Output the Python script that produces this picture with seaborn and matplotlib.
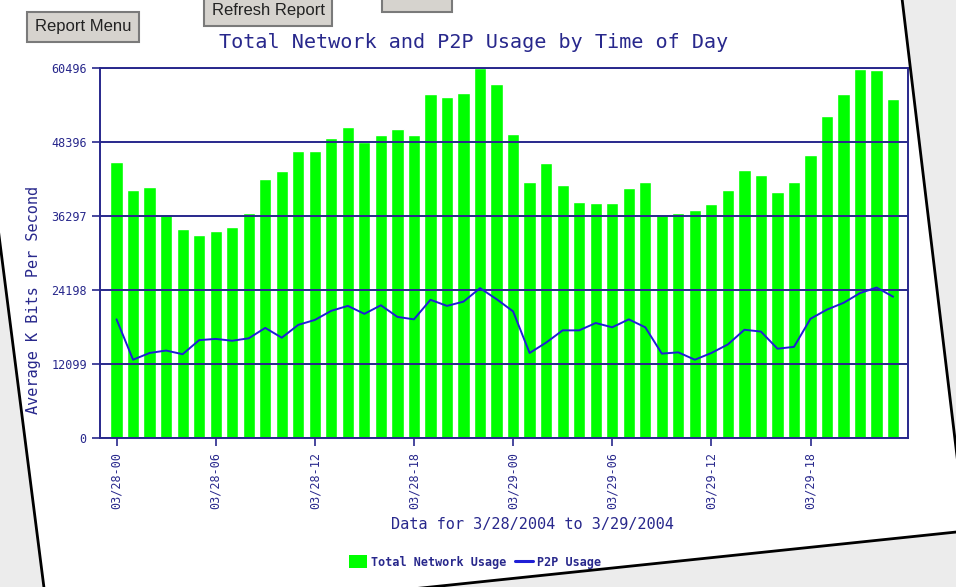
import numpy as np
import pandas as pd
import matplotlib
matplotlib.use("Agg")  # no display in the sandbox
import matplotlib.pyplot as plt
from matplotlib.patches import Polygon, Patch, Rectangle
from matplotlib.lines import Line2D
import seaborn as sns

# ── Data: hourly averages 03/28 00h → 03/29 23h, K bits per second ──────────
hours = [f"03/{d}-{h:02d}" for d in (28, 29) for h in range(24)]

total_usage = [
    45200, 40600, 41100, 36700, 34100, 33200, 33800, 34500, 36800, 42400,
    43600, 47000, 47000, 49000, 50800, 48400, 49500, 50600, 49600, 56300,
    55800, 56400, 60496, 57800, 49700, 41900, 45000, 41400, 38600, 38400,
    38500, 40800, 41800, 36500, 36800, 37300, 38300, 40500, 43800, 43000,
    40300, 41900, 46300, 52600, 56200, 60300, 60200, 55500,
]

p2p_usage = [
    19400, 12800, 13900, 14300, 13700, 16000, 16200, 15900, 16300, 18000,
    16400, 18500, 19300, 20800, 21600, 20300, 21700, 19800, 19400, 22600,
    21600, 22300, 24500, 22700, 20700, 13900, 15600, 17600, 17600, 18800,
    18100, 19400, 18100, 13800, 14000, 12800, 13900, 15300, 17700, 17400,
    14600, 14900, 19500, 21000, 22100, 23700, 24600, 23100,
]

y_ticks = [0, 12099, 24198, 36297, 48396, 60496]
x_tick_labels = ["03/28-00", "03/28-06", "03/28-12", "03/28-18",
                 "03/29-00", "03/29-06", "03/29-12", "03/29-18"]

df = pd.DataFrame({"hour": hours, "total": total_usage, "p2p": p2p_usage})

# ── Styling ──────────────────────────────────────────────────────────────────
NAVY = "#28288c"
GREEN = "#00ff00"
BLUE = "#1f1fd6"
W, H = 956, 587


def fx(px):
    return px / W


def fy(py):
    return 1 - py / H


sns.set_theme(style="white")
plt.rcParams["font.family"] = ["DejaVu Sans Mono", "DejaVu Sans"]

fig = plt.figure(figsize=(9.56, 5.87), dpi=100, facecolor="#ececec")

# page of the screenshot (slightly tilted sheet on a grey desk)
page = [(-10, -10), (901, -10), (966, 531), (49, 627), (-10, 165)]
fig.patches.append(Polygon([(fx(x), fy(y)) for x, y in page], closed=True,
                           transform=fig.transFigure, facecolor="white",
                           edgecolor="black", lw=2, zorder=-1))

# browser buttons
btn = dict(boxstyle="square,pad=0.45", fc="#d6d3ce", ec="#7a7a7a", lw=1.5)
fig.text(fx(83), fy(27), "Report Menu", ha="center", va="center",
         fontsize=12, family="Liberation Sans", color="#222222", bbox=btn)
fig.text(fx(268), fy(11), "Refresh Report", ha="center", va="center",
         fontsize=12, family="Liberation Sans", color="#222222", bbox=btn)
fig.patches.append(Rectangle((fx(382), fy(12)), fx(70), 30 / H,
                             transform=fig.transFigure, fc="#d6d3ce",
                             ec="#7a7a7a", lw=1.5))

# ── Chart ────────────────────────────────────────────────────────────────────
ax = fig.add_axes([fx(100), fy(438), fx(808), 370 / H])
ax.set_facecolor("white")

sns.barplot(data=df, x="hour", y="total", color=GREEN, saturation=1,
            width=0.74, ax=ax, zorder=1)
sns.lineplot(x=np.arange(len(hours)), y=df["p2p"], color=BLUE, lw=1.4,
             ax=ax, zorder=3)

ax.set_xlim(-1.0, len(hours) - 0.1)
ax.set_ylim(0, y_ticks[-1])
ax.set_yticks(y_ticks)
ax.set_yticklabels([str(v) for v in y_ticks], fontsize=8.5, color=NAVY)
ax.set_xticks([hours.index(lbl) for lbl in x_tick_labels])
ax.set_xticklabels(x_tick_labels, rotation=90, fontsize=8.5, color=NAVY)
ax.tick_params(axis="both", colors=NAVY, length=6, width=1.2, direction="out",
               bottom=True, left=True)
ax.tick_params(axis="x", pad=4)
ax.yaxis.grid(True, color=NAVY, lw=1.4)
ax.set_axisbelow(False)  # gridlines sit on top of the bars, like the original
for sp in ax.spines.values():
    sp.set_color(NAVY)
    sp.set_linewidth(1.4)
ax.set_xlabel("")
ax.set_ylabel("")

fig.text(fx(474), fy(42), "Total Network and P2P Usage by Time of Day",
         ha="center", va="center", fontsize=14.5, color=NAVY)
fig.text(fx(34), fy(300), "Average K Bits Per Second", rotation=90,
         ha="center", va="center", fontsize=11, color=NAVY)
fig.text(fx(532), fy(524), "Data for 3/28/2004 to 3/29/2004",
         ha="center", va="center", fontsize=11, color=NAVY)

handles = [Patch(facecolor=GREEN, edgecolor="none"),
           Line2D([0], [0], color=BLUE, lw=2.2)]
leg = fig.legend(handles, ["Total Network Usage", "P2P Usage"], loc="center",
                 bbox_to_anchor=(fx(475), fy(562)), ncol=2, frameon=False,
                 prop={"size": 8.5, "weight": "bold"}, handlelength=1.5,
                 handleheight=1.3, handletextpad=0.3, columnspacing=0.8)
for t in leg.get_texts():
    t.set_color(NAVY)

fig.savefig("out.png", dpi=100, facecolor=fig.get_facecolor())
plt.close(fig)
